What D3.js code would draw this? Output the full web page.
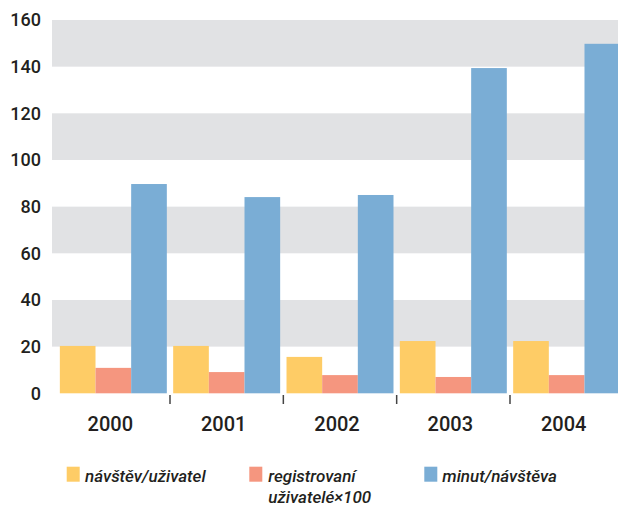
<!DOCTYPE html>
<html><head><meta charset="utf-8">
<script src="https://cdn.jsdelivr.net/npm/d3@7"></script>
<style>
html,body{margin:0;padding:0;background:#fff;}
svg{display:block;}
</style></head>
<body>
<script>
const years = ["2000","2001","2002","2003","2004"];
const seriesNames = ["návštěv/uživatel","registrovaní uživatelé×100","minut/návštěva"];
const visitsPerUser = [20.3, 20.3, 15.6, 22.4, 22.4];
const registeredUsers = [10.9, 9.1, 7.8, 7.0, 7.8];
const minutesPerVisit = [89.7, 84.1, 85.0, 139.4, 149.8];
const yTicks = [0,20,40,60,80,100,120,140,160];
const colors = ["#FECC66","#F5967F","#7AADD5"];

const W = 618, H = 506;
const svg = d3.select("body").append("svg").attr("width", W).attr("height", H);

const y = d3.scaleLinear().domain([0,160]).range([393.3, 20]);
const x0 = d3.scaleBand().domain(years).range([56.67, 623.33]).paddingInner(0.056).paddingOuter(0.028);
const x1 = d3.scaleBand().domain([0,1,2]).range([0, x0.bandwidth()]);

// gray bands
const bands = [[20,40],[60,80],[100,120],[140,160]];
svg.append("g").selectAll("rect").data(bands).join("rect")
  .attr("x", 52).attr("width", W - 52)
  .attr("y", d => y(d[1])).attr("height", d => y(d[0]) - y(d[1]))
  .attr("fill", "#E1E2E4");

// bars
const series = [visitsPerUser, registeredUsers, minutesPerVisit];
const g = svg.append("g");
years.forEach((yr, i) => {
  series.forEach((s, j) => {
    g.append("rect")
      .attr("x", x0(yr) + x1(j))
      .attr("width", x1.bandwidth())
      .attr("y", y(s[i]))
      .attr("height", y(0) - y(s[i]))
      .attr("fill", colors[j]);
  });
});

// y axis labels
svg.append("g").selectAll("text").data(yTicks).join("text")
  .attr("x", 41).attr("y", d => y(d) + 1.5)
  .attr("text-anchor", "end").attr("dominant-baseline", "middle")
  .attr("font-family", "Roboto, 'Liberation Sans', sans-serif")
  .attr("font-weight", 500).attr("font-size", 18).attr("fill", "#231F20")
  .text(d => d);

// x ticks between groups
const step = x0.step();
svg.append("g").selectAll("line").data(years.slice(1)).join("line")
  .attr("x1", d => x0(d) - step * x0.paddingInner() / 2)
  .attr("x2", d => x0(d) - step * x0.paddingInner() / 2)
  .attr("y1", 395).attr("y2", 404)
  .attr("stroke", "#444").attr("stroke-width", 1.5);

// x labels
svg.append("g").selectAll("text").data(years).join("text")
  .attr("x", d => x0(d) + x0.bandwidth() / 2 - 3)
  .attr("y", 431)
  .attr("text-anchor", "middle")
  .attr("font-family", "Roboto, 'Liberation Sans', sans-serif")
  .attr("font-weight", 500).attr("font-size", 20).attr("fill", "#231F20")
  .text(d => d);

// legend
const legendItems = [
  {lines:["návštěv/uživatel"], sx:66.7, tx:85},
  {lines:["registrovaní","uživatelé×100"], sx:249.3, tx:268.3},
  {lines:["minut/návštěva"], sx:424.3, tx:442.3}
];
const lg = svg.append("g");
legendItems.forEach((it, i) => {
  lg.append("rect").attr("x", it.sx).attr("y", 466.7).attr("width", 13).attr("height", 15).attr("fill", colors[i]);
  it.lines.forEach((ln, k) => {
    lg.append("text").attr("x", it.tx).attr("y", 481.5 + k * 21.5)
      .attr("font-family", "Roboto, 'Liberation Sans', sans-serif")
      .attr("font-style", "italic").attr("font-weight", 500).attr("font-size", 17).attr("fill", "#231F20")
      .text(ln);
  });
});
</script>
</body></html>
